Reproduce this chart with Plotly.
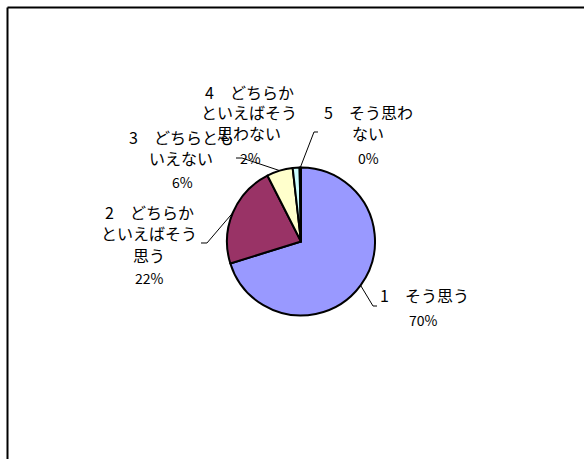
import math
import plotly.graph_objects as go

# ---- data ----
categories = ["1　そう思う", "2　どちらか といえばそう 思う", "3　どちらとも いえない",
              "4　どちらか といえばそう 思わない", "5　そう思わ ない"]
label_lines = [["1　そう思う"],
               ["2　どちらか", "といえばそう", "思う"],
               ["3　どちらとも", "いえない"],
               ["4　どちらか", "といえばそう", "思わない"],
               ["5　そう思わ", "ない"]]
values = [70.2, 22.3, 5.7, 1.5, 0.3]
colors = ["#9999FF", "#993366", "#FFFFCC", "#CCFFFF", "#660066"]

W, H = 584, 459
CX, CY, R = 301, 241.5, 74

def px(x):
    return x / W

def py(y):
    return 1 - y / H

fig = go.Figure(go.Pie(
    labels=categories, values=values, sort=False, direction="clockwise", rotation=0,
    marker=dict(colors=colors, line=dict(color="black", width=2)),
    textinfo="none", hoverinfo="label+percent", showlegend=False,
    domain=dict(x=[px(CX - R), px(CX + R)], y=[py(CY + R), py(CY - R)]),
))

# label layout (pixel centres)
line_x = [424, 149, 181, 249, 368]
line_y = [[295], [212, 233, 255], [137, 158], [92, 112, 133], [112, 133]]
pct_pos = [(423, 320), (149, 278), (182, 182), (250, 158), (368, 158)]
# leader elbows / ends (None = no leader)
leaders = [[(373, 306), (377, 306)], [(207, 243), (201, 243)], [(242, 158), (236, 158)],
           None, [(314, 132), (318, 132)]]

font = "Noto Sans CJK JP, Noto Sans, sans-serif"
total = sum(values)
annotations = []
shapes = []
cum = 0
for i, v in enumerate(values):
    for txt, yy in zip(label_lines[i], line_y[i]):
        annotations.append(dict(x=px(line_x[i]), y=py(yy), xref="paper", yref="paper",
                                text=txt, showarrow=False, xanchor="center", yanchor="middle",
                                font=dict(family=font, size=16, color="black")))
    pct = round(v / total * 100)
    annotations.append(dict(x=px(pct_pos[i][0]), y=py(pct_pos[i][1]), xref="paper", yref="paper",
                            text=f"{pct}%", showarrow=False, xanchor="center", yanchor="middle",
                            font=dict(family=font, size=14, color="black")))
    mid = (cum + v / 2) / total * 2 * math.pi
    cum += v
    if leaders[i] is not None:
        ax = CX + R * math.sin(mid)
        ay = CY - R * math.cos(mid)
        pts = [(ax, ay)] + leaders[i]
        path = "M " + " L ".join(f"{px(x):.5f},{py(y):.5f}" for x, y in pts)
        shapes.append(dict(type="path", path=path, xref="paper", yref="paper",
                           line=dict(color="black", width=1)))

# chart border (top and left edges visible)
shapes.append(dict(type="line", xref="paper", yref="paper", x0=px(7.5), x1=1.01, y0=py(7.5), y1=py(7.5),
                   line=dict(color="black", width=2)))
shapes.append(dict(type="line", xref="paper", yref="paper", x0=px(7.5), x1=px(7.5), y0=py(7.5), y1=-0.01,
                   line=dict(color="black", width=2)))

fig.update_layout(width=W, height=H, margin=dict(l=0, r=0, t=0, b=0),
                  paper_bgcolor="white", plot_bgcolor="white",
                  annotations=annotations, shapes=shapes)
fig.write_html("out.html", config={"displayModeBar": False},
               post_script="document.body.style.margin='0px';document.body.style.overflow='hidden';")
